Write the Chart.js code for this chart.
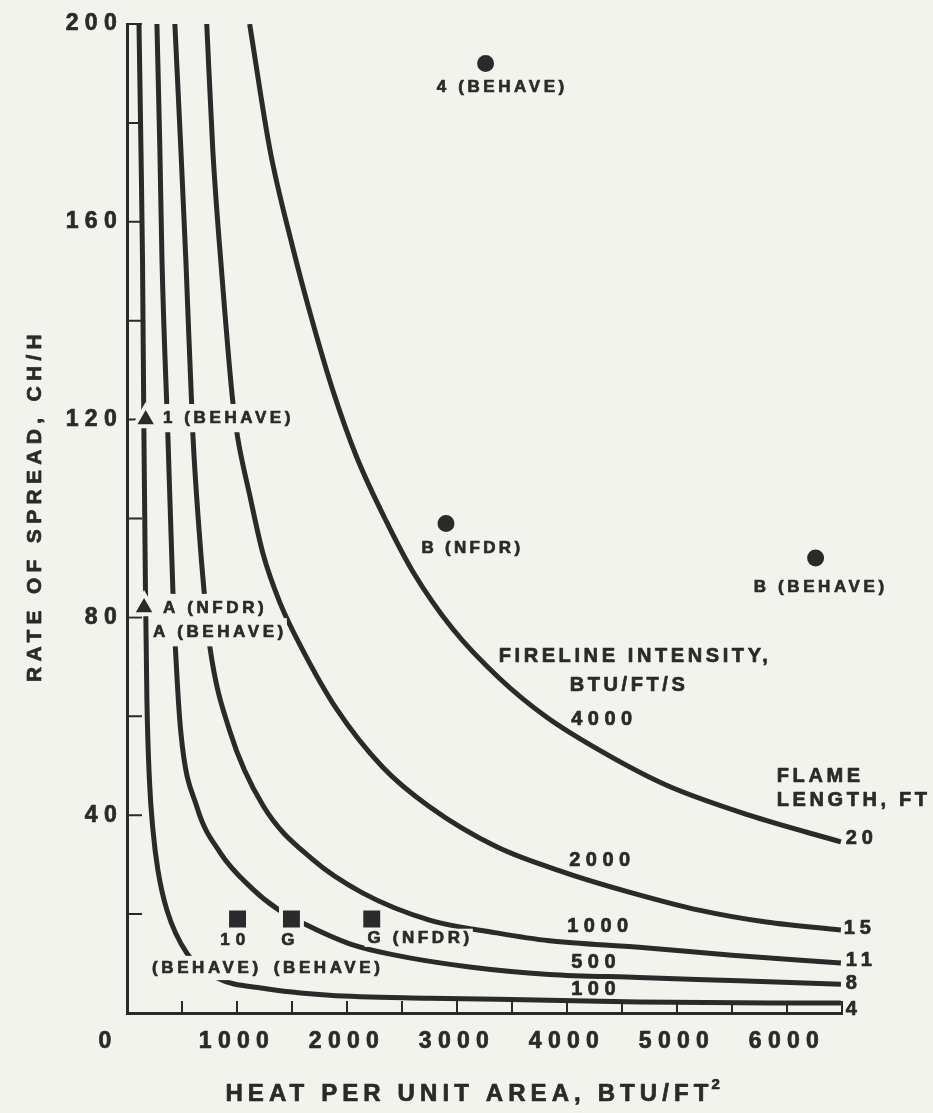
<!DOCTYPE html>
<html>
<head>
<meta charset="utf-8">
<script src="https://cdn.jsdelivr.net/npm/chart.js@4.4.1/dist/chart.umd.min.js"></script>
<style>
  html, body { margin: 0; padding: 0; background: #f3f3ee; }
  canvas { display: block; }
</style>
</head>
<body>
<canvas id="chart" width="933" height="1113"></canvas>
<script>
// curves of equal fireline intensity
// heat per unit area (BTU/ft2) vs rate of spread (ch/h)
const heat100 = [109, 127, 141, 154, 168, 181, 204, 236, 281, 363, 544, 817, 1235, 1840, 2750, 3840, 4655, 6490];
const ros100  = [200, 174.5, 152.3, 116.5, 85.5, 63.3, 47.1, 37, 28.9, 20.8, 12.1, 7.1, 5, 3.6, 3, 2.6, 2.2, 2];

const heat500 = [272, 299, 318, 372, 417, 440, 490, 635, 845, 1145, 1370, 1615, 2025, 2415, 3115, 3840, 4655, 5565, 6490];
const ros500  = [200, 174.5, 152.3, 116.5, 85.5, 73.8, 56.6, 41.7, 32.5, 25, 21, 18, 14, 11.8, 9.3, 7.8, 7.2, 6.5, 5.8];

const heat1000 = [435, 490, 535, 600, 655, 700, 755, 935, 1235, 1690, 2140, 2750, 3360, 3840, 4655, 5500, 6490];
const ros1000  = [200, 174.5, 152.3, 116.5, 97.7, 85.5, 73.8, 57, 42, 31, 24.3, 18.8, 16.2, 14.6, 13.3, 11.7, 10.1];

const heat2000 = [725, 780, 860, 960, 1005, 1115, 1235, 1390, 1595, 1905, 2325, 2750, 3360, 3995, 4590, 5200, 5810, 6490];
const ros2000  = [200, 174.5, 150, 124, 116.5, 104.8, 93, 83, 73.5, 61.5, 49.7, 41.7, 33.6, 28.3, 24.3, 20.8, 18.4, 16.8];

const heat4000 = [1115, 1300, 1505, 1690, 1870, 2085, 2360, 2595, 2960, 3385, 3810, 4290, 4900, 5655, 6490];
const ros4000  = [200, 174.5, 155, 139.5, 126, 112.6, 99.3, 89.4, 77.7, 67.7, 59.9, 53.2, 46.1, 40, 34.6];

const intensityLabels = ['100', '500', '1000', '2000', '4000'];
const flameLabels = ['4', '8', '11', '15', '20'];

// fuel model points
const triHeat = [170, 155];
const triRos  = [120, 82];
const dotHeat = [3260, 2900, 6260];
const dotRos  = [192, 99, 92];
const sqHeat  = [1005, 1495, 2225];
const sqRos   = [19, 19, 19];

const xTickLabels = [0, 1000, 2000, 3000, 4000, 5000, 6000];
const yTickLabels = [40, 80, 120, 160, 200];

const paper = '#f3f3ee';
const ink = '#2a2a2a';
const family = "'Liberation Sans', Arial, sans-serif";

const pts = (h, r) => h.map((x, i) => ({ x: x, y: r[i] }));

const curve = (h, r) => ({
  data: pts(h, r),
  showLine: true,
  borderColor: ink,
  borderWidth: 5,
  pointRadius: 0,
  cubicInterpolationMode: 'monotone',
  fill: false
});

const marker = (h, r, style, radius) => ({
  data: pts(h, r),
  showLine: false,
  pointStyle: style,
  pointRadius: radius,
  pointHoverRadius: radius,
  backgroundColor: ink,
  borderColor: paper,
  borderWidth: 4
});

// annotations: anchor in data units
const notes = [
  { text: '1 (BEHAVE)', x: 327, y: 120.3, align: 'left', size: 17, gap: 3.6, mask: 8 },
  { text: 'A (NFDR)', x: 327, y: 81.9, align: 'left', size: 17, gap: 3.6, mask: 8 },
  { text: 'A (BEHAVE)', x: 236, y: 77.0, align: 'left', size: 17, gap: 3.6, mask: 8 },
  { text: '4 (BEHAVE)', x: 3412, y: 187.1, align: 'center', size: 17, gap: 3.6 },
  { text: 'B (NFDR)', x: 3140, y: 94.0, align: 'center', size: 17, gap: 3.3 },
  { text: 'B (BEHAVE)', x: 6307, y: 86.1, align: 'center', size: 17, gap: 3.6 },
  { text: '10', x: 989, y: 14.8, align: 'center', size: 17, gap: 6 },
  { text: 'G', x: 1479, y: 14.8, align: 'center', size: 17, gap: 3.6 },
  { text: 'G (NFDR)', x: 2187, y: 15.2, align: 'left', size: 17, gap: 3.6, mask: 3 },
  { text: '(BEHAVE)', x: 726, y: 9.1, align: 'center', size: 17, gap: 3.6, mask: 6 },
  { text: '(BEHAVE)', x: 1833, y: 9.1, align: 'center', size: 17, gap: 3.6, mask: 4 },
  { text: 'FIRELINE INTENSITY,', x: 4619, y: 72.0, align: 'center', size: 20, gap: 3.6 },
  { text: 'BTU/FT/S', x: 4564, y: 66.3, align: 'center', size: 20, gap: 3.6 },
  { text: intensityLabels[4], x: 4038, y: 59.3, align: 'left', size: 20, gap: 5.5 },
  { text: intensityLabels[3], x: 4020, y: 30.9, align: 'left', size: 20, gap: 5.5 },
  { text: intensityLabels[2], x: 4002, y: 17.4, align: 'left', size: 20, gap: 5.5 },
  { text: intensityLabels[1], x: 4038, y: 10.3, align: 'left', size: 20, gap: 5.5 },
  { text: intensityLabels[0], x: 4038, y: 4.7, align: 'left', size: 20, gap: 5.5 },
  { text: 'FLAME', x: 5907, y: 47.9, align: 'left', size: 20, gap: 3.6 },
  { text: 'LENGTH, FT', x: 5907, y: 42.9, align: 'left', size: 20, gap: 3.6 },
  { text: flameLabels[4], x: 6534, y: 35.2, align: 'left', size: 20, gap: 5 },
  { text: flameLabels[3], x: 6515, y: 17.0, align: 'left', size: 20, gap: 5 },
  { text: flameLabels[2], x: 6534, y: 10.7, align: 'left', size: 20, gap: 5 },
  { text: flameLabels[1], x: 6534, y: 5.9, align: 'left', size: 20, gap: 5 },
  { text: flameLabels[0], x: 6534, y: 0.8, align: 'left', size: 20, gap: 5 }
];

// bold text with a thin outline to match the heavy lettering
function heavyText(ctx, text, x, y) {
  ctx.fillText(text, x, y);
  ctx.strokeText(text, x, y);
}

const figurePlugin = {
  id: 'figure',
  beforeDraw(chart) {
    const ctx = chart.ctx;
    ctx.save();
    ctx.fillStyle = paper;
    ctx.fillRect(0, 0, chart.width, chart.height);
    ctx.restore();
    ctx.letterSpacing = '6.3px';
  },
  beforeDatasetsDraw(chart) {
    // tick marks pointing into the plot
    const { ctx, chartArea: a, scales: { x, y } } = chart;
    ctx.save();
    ctx.strokeStyle = ink;
    ctx.lineWidth = 2;
    ctx.beginPath();
    x.ticks.forEach(t => {
      const px = x.getPixelForValue(t.value);
      ctx.moveTo(px, a.bottom);
      ctx.lineTo(px, a.bottom - 12);
    });
    y.ticks.forEach(t => {
      const py = y.getPixelForValue(t.value);
      ctx.moveTo(a.left, py);
      ctx.lineTo(a.left + 15, py);
    });
    ctx.stroke();
    ctx.restore();
  },
  afterDatasetsDraw(chart) {
    const { ctx, scales: { x, y } } = chart;
    ctx.save();
    ctx.textBaseline = 'middle';
    ctx.strokeStyle = ink;
    ctx.lineWidth = 0.7;
    ctx.lineJoin = 'round';
    notes.forEach(n => {
      ctx.font = `bold ${n.size}px ${family}`;
      ctx.letterSpacing = n.gap + 'px';
      ctx.textAlign = n.align;
      const px = x.getPixelForValue(n.x);
      const py = y.getPixelForValue(n.y);
      if (n.mask) {
        const w = ctx.measureText(n.text).width;
        const left = n.align === 'center' ? px - w / 2 : px;
        ctx.fillStyle = paper;
        ctx.fillRect(left - 3, py - n.size * 0.36 - n.mask, w + 3, n.size * 0.72 + 2 * n.mask);
      }
      ctx.fillStyle = ink;
      heavyText(ctx, n.text, px, py);
    });
    ctx.restore();
  },
  afterDraw(chart) {
    const { ctx, chartArea: a } = chart;
    ctx.save();
    ctx.fillStyle = ink;
    ctx.strokeStyle = ink;
    ctx.lineWidth = 0.7;
    ctx.lineJoin = 'round';
    ctx.textBaseline = 'middle';

    // x axis title with superscript
    ctx.font = `bold 24px ${family}`;
    ctx.letterSpacing = '5.1px';
    ctx.textAlign = 'left';
    const main = 'HEAT PER UNIT AREA, BTU/FT';
    const w = ctx.measureText(main).width;
    const x0 = (a.left + a.right) / 2 - 10 - (w + 10) / 2;
    const ty = a.bottom + 81;
    heavyText(ctx, main, x0, ty);
    ctx.font = `bold 15px ${family}`;
    ctx.letterSpacing = '0px';
    heavyText(ctx, '2', x0 + w - 2, ty - 9);

    // y axis title
    ctx.font = `bold 21px ${family}`;
    ctx.letterSpacing = '5.3px';
    ctx.textAlign = 'center';
    ctx.translate(a.left - 92, (a.top + a.bottom) / 2 - 13);
    ctx.rotate(-Math.PI / 2);
    heavyText(ctx, 'RATE OF SPREAD, CH/H', 0, 0);
    ctx.restore();
  }
};

const config = {
  type: 'scatter',
  data: {
    datasets: [
      marker(triHeat, triRos, 'triangle', 13.5),
      marker(dotHeat, dotRos, 'circle', 10.5),
      marker(sqHeat, sqRos, 'rect', 14.8),
      curve(heat100, ros100),
      curve(heat500, ros500),
      curve(heat1000, ros1000),
      curve(heat2000, ros2000),
      curve(heat4000, ros4000)
    ]
  },
  options: {
    responsive: false,
    animation: false,
    events: [],
    layout: { padding: { left: 0, right: 91, top: 24, bottom: 0 } },
    plugins: { legend: { display: false }, tooltip: { enabled: false } },
    scales: {
      x: {
        type: 'linear',
        min: 0,
        max: 6500,
        grid: { display: false, drawTicks: false },
        border: { display: true, color: ink, width: 3 },
        ticks: {
          stepSize: 500,
          autoSkip: false,
          maxRotation: 0,
          padding: 15,
          color: ink,
          textStrokeColor: ink,
          textStrokeWidth: 0.7,
          font: { family: family, size: 23, weight: 'bold' },
          callback: v => {
            if (!xTickLabels.includes(v)) return '';
            return v === 0 ? '0\u00a0\u00a0\u00a0' : String(v);
          }
        },
        afterFit: scale => { scale.height = 100; }
      },
      y: {
        type: 'linear',
        min: 0,
        max: 200,
        grid: { display: false, drawTicks: false },
        border: { display: true, color: ink, width: 3 },
        ticks: {
          stepSize: 20,
          autoSkip: false,
          padding: 4,
          color: ink,
          textStrokeColor: ink,
          textStrokeWidth: 0.7,
          font: { family: family, size: 23, weight: 'bold' },
          callback: v => yTickLabels.includes(v) ? String(v) : ''
        },
        afterFit: scale => { scale.width = 127; }
      }
    }
  },
  plugins: [figurePlugin]
};

window.onload = function() {
  const ctx = document.getElementById('chart').getContext('2d');
  window.fireChart = new Chart(ctx, config);
};
</script>
</body>
</html>
